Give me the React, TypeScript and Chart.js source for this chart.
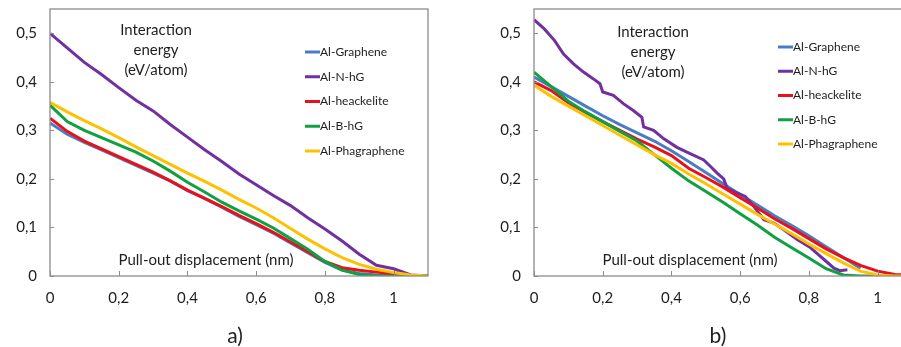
import React, { useEffect, useRef } from "react";
import { Chart, registerables } from "chart.js";

Chart.register(...registerables);

// ---------- data ----------
const X_NM = [0, 0.05, 0.1, 0.15, 0.2, 0.25, 0.3, 0.35, 0.4, 0.45, 0.5, 0.55, 0.6, 0.65, 0.7, 0.75, 0.8, 0.85, 0.9, 0.95, 1.0, 1.05, 1.1];

const SERIES_NAMES = ["Al-Graphene", "Al-N-hG", "Al-heackelite", "Al-B-hG", "Al-Phagraphene"];
const SERIES_COLORS = ["#4A7CC4", "#7030A0", "#E8101A", "#10A040", "#FFC000"];

// panel a)
const A_GRAPHENE = [0.315, 0.292, 0.275, 0.26, 0.244, 0.228, 0.212, 0.196, 0.176, 0.16, 0.142, 0.123, 0.106, 0.088, 0.068, 0.048, 0.028, 0.012, 0.005, 0.002, 0, 0, 0];
const A_NHG = [0.5, 0.47, 0.44, 0.415, 0.388, 0.362, 0.34, 0.312, 0.286, 0.26, 0.236, 0.21, 0.188, 0.166, 0.145, 0.12, 0.097, 0.072, 0.045, 0.022, 0.015, 0.002, 0];
const A_HEACKELITE = [0.325, 0.298, 0.278, 0.262, 0.246, 0.23, 0.214, 0.196, 0.177, 0.16, 0.143, 0.125, 0.108, 0.09, 0.07, 0.05, 0.03, 0.017, 0.012, 0.008, 0.004, 0, 0];
const A_BHG = [0.352, 0.318, 0.3, 0.285, 0.27, 0.255, 0.237, 0.216, 0.193, 0.173, 0.152, 0.134, 0.117, 0.099, 0.077, 0.055, 0.03, 0.012, 0.003, 0, 0, 0, 0];
const A_PHAGRAPHENE = [0.358, 0.338, 0.32, 0.303, 0.285, 0.266, 0.248, 0.23, 0.212, 0.195, 0.177, 0.158, 0.14, 0.12, 0.098, 0.076, 0.056, 0.038, 0.024, 0.014, 0.007, 0.002, 0];

// panel b)
const B_GRAPHENE = [0.41, 0.39, 0.37, 0.35, 0.33, 0.312, 0.295, 0.278, 0.258, 0.236, 0.213, 0.19, 0.168, 0.146, 0.124, 0.104, 0.083, 0.06, 0.038, 0.016, null, null, null];
const B_HEACKELITE = [0.4, 0.382, 0.357, 0.337, 0.318, 0.3, 0.282, 0.266, 0.248, 0.222, 0.203, 0.183, 0.161, 0.14, 0.118, 0.098, 0.077, 0.056, 0.038, 0.022, 0.01, 0.003, 0.002];
const B_BHG = [0.42, 0.39, 0.36, 0.338, 0.318, 0.298, 0.278, 0.25, 0.222, 0.196, 0.174, 0.152, 0.128, 0.105, 0.08, 0.058, 0.037, 0.015, 0.002, 0, 0, null, null];
const B_PHAGRAPHENE = [0.393, 0.37, 0.35, 0.33, 0.31, 0.29, 0.27, 0.25, 0.232, 0.21, 0.19, 0.169, 0.148, 0.127, 0.107, 0.087, 0.066, 0.046, 0.027, 0.01, 0.002, 0, 0];
// Al-N-hG in panel b) is read on its own, finer x grid (stepped curve)
const B_NHG_X = [0, 0.03, 0.06, 0.086, 0.115, 0.144, 0.173, 0.192, 0.2, 0.231, 0.26, 0.289, 0.314, 0.319, 0.348, 0.377, 0.416, 0.445, 0.494, 0.513, 0.533, 0.552, 0.562, 0.591, 0.615, 0.64, 0.669, 0.698, 0.727, 0.766, 0.805, 0.844, 0.873, 0.89, 0.912];
const B_NHG = [0.528, 0.509, 0.485, 0.457, 0.437, 0.42, 0.406, 0.396, 0.379, 0.372, 0.355, 0.341, 0.327, 0.307, 0.3, 0.283, 0.265, 0.255, 0.239, 0.226, 0.212, 0.2, 0.181, 0.171, 0.164, 0.143, 0.116, 0.109, 0.095, 0.075, 0.058, 0.034, 0.016, 0.011, 0.013];

const X_TICKS = [0, 0.2, 0.4, 0.6, 0.8, 1];
const Y_TICKS = [0, 0.1, 0.2, 0.3, 0.4, 0.5];

const TITLE_LINES = ["Interaction", "energy", "(eV/atom)"];
const X_LABEL = "Pull-out displacement (nm)";

const FONT = "Lato, 'Open Sans', sans-serif";
const TEXT = "#1e1e1e";

const fmt = (v: number) => String(v).replace(".", ",");

const decorPlugin = {
  id: "decor",
  afterDatasetsDraw(chart: any, _args: any, opts: any) {
    const { ctx, chartArea: a, scales } = chart;
    ctx.save();
    // plot border
    ctx.strokeStyle = "#8c8c8c";
    ctx.lineWidth = 1.3;
    ctx.strokeRect(a.left, a.top, a.right - a.left, a.bottom - a.top);
    // inward tick marks
    ctx.lineWidth = 1;
    scales.x.ticks.forEach((t: any) => {
      const px = Math.round(scales.x.getPixelForValue(t.value)) + 0.5;
      ctx.beginPath();
      ctx.moveTo(px, a.bottom);
      ctx.lineTo(px, a.bottom - 5);
      ctx.stroke();
    });
    scales.y.ticks.forEach((t: any) => {
      const py = Math.round(scales.y.getPixelForValue(t.value)) + 0.5;
      ctx.beginPath();
      ctx.moveTo(a.left, py);
      ctx.lineTo(a.left + 4, py);
      ctx.stroke();
    });
    // annotation text
    ctx.fillStyle = TEXT;
    ctx.textAlign = "center";
    ctx.textBaseline = "middle";
    ctx.font = `15px ${FONT}`;
    TITLE_LINES.forEach((l, i) => {
      ctx.fillText(l, a.left + opts.titleX, a.top + opts.titleY + i * 20);
    });
    ctx.fillText(X_LABEL, a.left + opts.xLabelX, a.top + opts.xLabelY);
    // legend
    ctx.textAlign = "left";
    ctx.font = `12px ${FONT}`;
    chart.data.datasets.forEach((ds: any, i: number) => {
      const y = a.top + opts.legendY + i * opts.legendGap;
      const x = a.left + opts.legendX;
      ctx.strokeStyle = ds.borderColor;
      ctx.lineWidth = 3;
      ctx.beginPath();
      ctx.moveTo(x, y);
      ctx.lineTo(x + 15, y);
      ctx.stroke();
      ctx.fillStyle = TEXT;
      ctx.fillText(ds.label, x + 15, y);
    });
    ctx.restore();
  },
};

type Series = { xs: number[]; ys: (number | null)[] };

function buildConfig(series: Series[], decor: any): any {
  return {
    type: "line",
    data: {
      datasets: series.map((s, i) => ({
        label: SERIES_NAMES[i],
        data: s.xs.map((x, j) => ({ x, y: s.ys[j] })),
        borderColor: SERIES_COLORS[i],
        backgroundColor: SERIES_COLORS[i],
        borderWidth: 3,
        pointRadius: 0,
        tension: 0,
        spanGaps: false,
        order: series.length - i,
      })),
    },
    options: {
      animation: false,
      responsive: true,
      maintainAspectRatio: false,
      layout: { padding: { left: 0, right: 22, top: 9, bottom: 31 } },
      plugins: {
        legend: { display: false },
        tooltip: { enabled: false },
        decor,
      },
      scales: {
        x: {
          type: "linear",
          min: 0,
          max: 1.1,
          afterBuildTicks: (s: any) => {
            s.ticks = X_TICKS.map((v) => ({ value: v }));
          },
          afterFit: (s: any) => {
            s.height = 40;
            s.paddingLeft = 0;
            s.paddingRight = 0;
          },
          grid: { display: false, drawTicks: false },
          border: { display: false },
          ticks: {
            padding: 13,
            color: TEXT,
            font: { family: FONT, size: 15 },
            callback: (v: any) => fmt(v),
            maxRotation: 0,
            autoSkip: false,
          },
        },
        y: {
          type: "linear",
          min: 0,
          max: 0.55,
          afterBuildTicks: (s: any) => {
            s.ticks = Y_TICKS.map((v) => ({ value: v }));
          },
          afterFit: (s: any) => {
            s.width = 50;
            s.paddingTop = 0;
            s.paddingBottom = 0;
          },
          grid: { display: false, drawTicks: false },
          border: { display: false },
          ticks: {
            padding: 13,
            color: TEXT,
            font: { family: FONT, size: 15 },
            callback: (v: any) => fmt(v),
            autoSkip: false,
          },
        },
      },
    },
    plugins: [decorPlugin],
  };
}

function Panel({ series, decor, left }: { series: Series[]; decor: any; left: number }) {
  const ref = useRef<HTMLCanvasElement | null>(null);
  useEffect(() => {
    if (!ref.current) return;
    const chart = new Chart(ref.current, buildConfig(series, decor));
    return () => chart.destroy();
  }, []);
  return (
    <div style={{ position: "absolute", left, top: 0, width: 450, height: 347 }}>
      <canvas ref={ref} />
    </div>
  );
}

const on = (ys: (number | null)[], xs: number[] = X_NM): Series => ({ xs, ys });

export default function App() {
  const captionStyle: React.CSSProperties = {
    position: "absolute",
    top: 320,
    width: 40,
    textAlign: "center",
    fontFamily: FONT,
    fontSize: 21,
    color: "#222",
    lineHeight: "30px",
  };
  return (
    <div style={{ position: "fixed", left: 0, top: 0, width: 901, height: 347, overflow: "hidden", background: "#fff" }}>
      <Panel
        left={0}
        series={[on(A_GRAPHENE), on(A_NHG), on(A_HEACKELITE), on(A_BHG), on(A_PHAGRAPHENE)]}
        decor={{ titleX: 106, titleY: 21, xLabelX: 156, xLabelY: 251, legendX: 255, legendY: 43, legendGap: 24.75 }}
      />
      <Panel
        left={484}
        series={[on(B_GRAPHENE), on(B_NHG, B_NHG_X), on(B_HEACKELITE), on(B_BHG), on(B_PHAGRAPHENE)]}
        decor={{ titleX: 119, titleY: 23, xLabelX: 156, xLabelY: 251, legendX: 244, legendY: 38, legendGap: 24.25 }}
      />
      <div style={{ ...captionStyle, left: 215 }}>a)</div>
      <div style={{ ...captionStyle, left: 698 }}>b)</div>
    </div>
  );
}
